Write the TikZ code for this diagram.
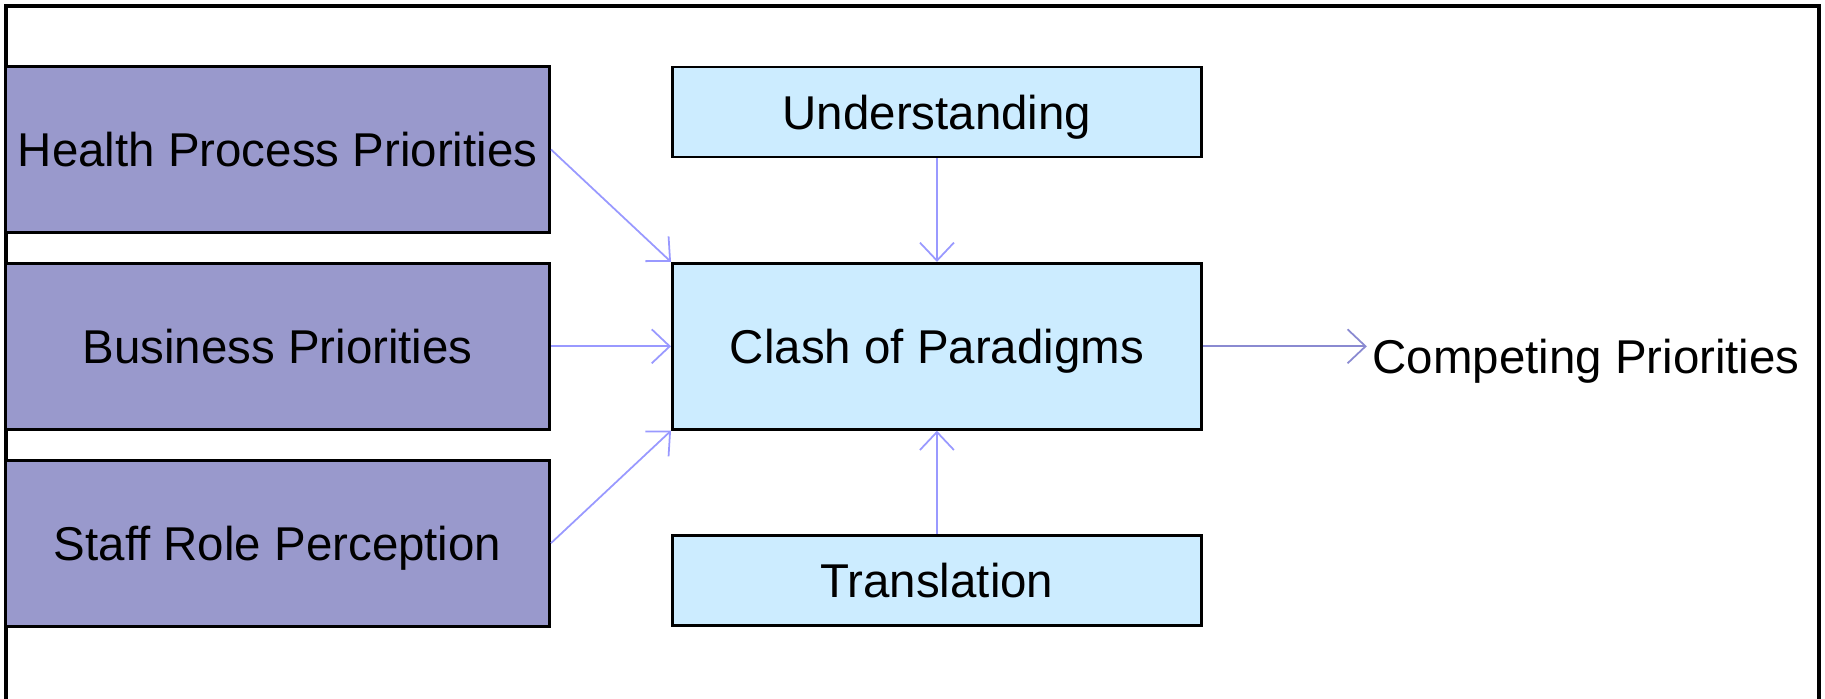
\documentclass[tikz,border=0pt]{standalone}
\usepackage{fontspec}
\setmainfont{Liberation Sans}
\usepackage{tikz}
\usetikzlibrary{arrows.meta,positioning}
\definecolor{prioviolet}{HTML}{9999CC}
\definecolor{paleblue}{HTML}{CCECFF}
\definecolor{arrowblue}{HTML}{9999FF}
\tikzset{
  priority/.style={
    draw=black,
    fill=prioviolet,
    line width=0.8pt,
    align=center,
    minimum width=5.44cm,
    minimum height=1.66cm,
    text height=12.6pt,
    text depth=2.9pt,
    font=\fontsize{13.5}{16}\selectfont
  },
  concept/.style={
    draw=black,
    fill=paleblue,
    line width=0.8pt,
    align=center,
    minimum width=5.29cm,
    minimum height=0.9cm,
    text height=12.6pt,
    text depth=2.9pt,
    font=\fontsize{13.5}{16}\selectfont
  },
  outcome/.style={
    inner sep=0.05cm,
    text height=12.6pt,
    text depth=2.9pt,
    font=\fontsize{13.5}{16}\selectfont
  },
  linkarrow/.style={
    -{Straight Barb[length=1.8mm,width=3.4mm]},
    line width=0.5pt,
    draw=arrowblue
  }
}
\begin{document}
\begin{tikzpicture}[node distance=0.28cm and 1.2cm]
    \useasboundingbox (0,0) rectangle (18.25,-6.99);
    \draw[line width=1pt] (0.058,-6.99) |- (18.19,-0.058) -- (18.19,-6.99);
    \node[priority] (health) at (2.776,-1.495) {Health Process Priorities};
    \node[priority, below=of health] (business) {Business Priorities};
    \node[priority, below=of business] (staff) {Staff Role Perception};
    \node[concept, right=of business, minimum height=1.66cm] (clash) {Clash of Paradigms};
    \node[concept, above=1.035cm of clash] (understanding) {Understanding};
    \node[concept, below=1.035cm of clash] (translation) {Translation};
    \node[outcome, right=1.64cm of clash, yshift=-0.1cm] (competing) {Competing Priorities};
    \draw[linkarrow] (health.east) -- (clash.north west);
    \draw[linkarrow] (business) -- (clash);
    \draw[linkarrow] (staff.east) -- (clash.south west);
    \draw[linkarrow] (understanding) -- (clash);
    \draw[linkarrow] (translation) -- (clash);
    \draw[linkarrow, draw=prioviolet!90!blue] (clash.east) -- (clash.east -| competing.west);
  \end{tikzpicture}
\end{document}
